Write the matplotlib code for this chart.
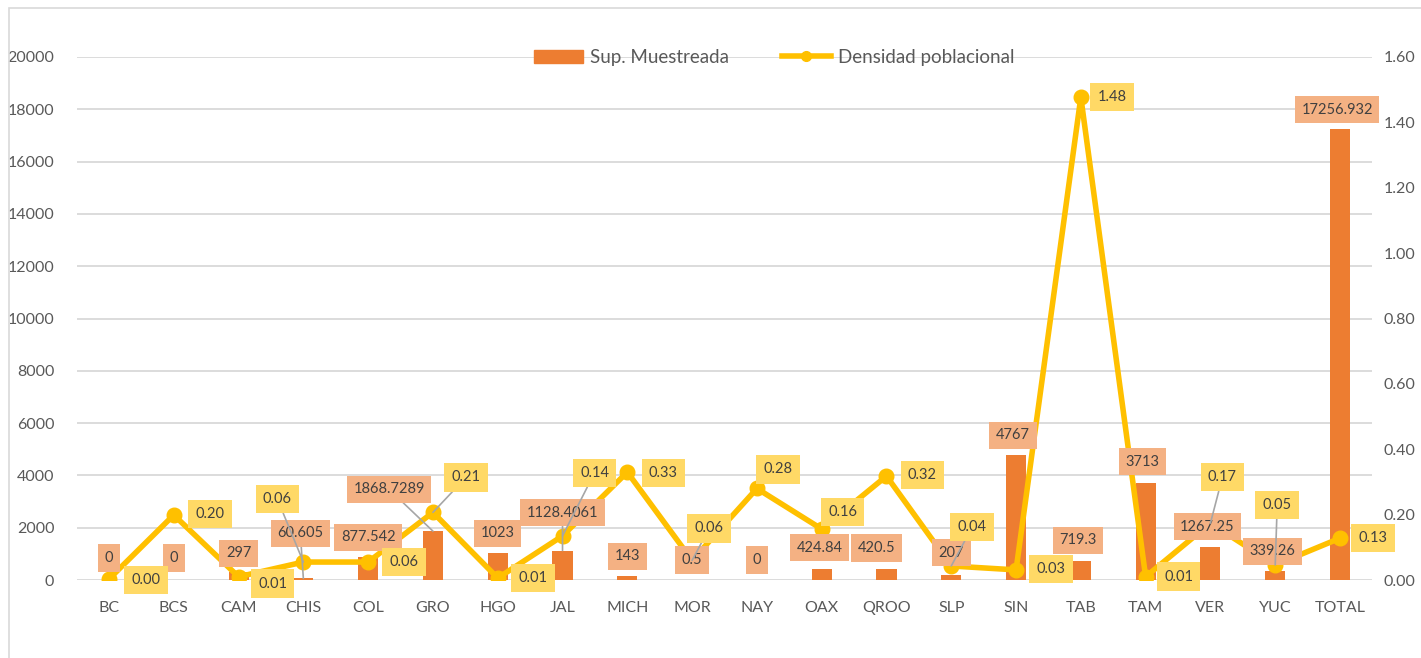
"""Sup. Muestreada vs Densidad poblacional por estado."""

import matplotlib
matplotlib.use('Agg')
import matplotlib.pyplot as plt
import matplotlib.patches as mpatches
from matplotlib.lines import Line2D
import numpy as np

# ── Data ──
estados = ['BC', 'BCS', 'CAM', 'CHIS', 'COL', 'GRO', 'HGO', 'JAL', 'MICH', 'MOR',
           'NAY', 'OAX', 'QROO', 'SLP', 'SIN', 'TAB', 'TAM', 'VER', 'YUC', 'TOTAL']
sup_muestreada = [0, 0, 297, 60.605, 877.542, 1868.7289, 1023, 1128.4061, 143, 0.5,
                  0, 424.84, 420.5, 207, 4767, 719.3, 3713, 1267.25, 339.26, 17256.932]
sup_labels = ['0', '0', '297', '60.605', '877.542', '1868.7289', '1023', '1128.4061', '143', '0.5',
              '0', '424.84', '420.5', '207', '4767', '719.3', '3713', '1267.25', '339.26', '17256.932']
densidad = [0.003, 0.199, 0.01, 0.055, 0.055, 0.207, 0.006, 0.135, 0.33, 0.06,
            0.28, 0.156, 0.318, 0.043, 0.031, 1.477, 0.01, 0.174, 0.046, 0.128]

# ── Label placement (pixel offsets from the mark) and leader lines ──
bar_offsets = [(0, 22), (0, 22), (0, 19), (-3, 45), (0, 20), (-44, 42), (0, 20), (0, 38), (0, 20), (0, 20),
               (0, 20), (-2, 21), (-10, 21), (0, 22), (-3, 20), (-3, 21), (-3, 21), (-3, 20), (-3, 20), (-3, 19)]
bar_leaders = {3, 5, 7}
line_offsets = [(37, -1), (36, 1), (34, -7), (-26, 63), (36, 0), (33, 35), (35, 0), (32, 63), (36, -1), (17, 32),
                (21, 19), (21, 17), (36, 1), (21, 39), (35, 1), (31, 0), (33, 0), (12, 46), (2, 60), (33, 0)]
line_leaders = {3, 5, 7, 9, 13, 17, 18}

BAR_COLOR = '#ED7D31'
LINE_COLOR = '#FFC000'
BAR_BOX = '#F4B183'
LINE_BOX = '#FFD966'
TEXT_COLOR = '#404040'
TICK_COLOR = '#595959'
GRID_COLOR = '#D9D9D9'

plt.rcParams['font.family'] = ['Lato', 'DejaVu Sans']

fig = plt.figure(figsize=(14.21, 6.58), dpi=100)
ax = fig.add_axes([0.0539, 0.1185, 0.9119, 0.7949])
ax2 = ax.twinx()

x = np.arange(len(estados))
ax.bar(x, sup_muestreada, width=0.31, color=BAR_COLOR, zorder=2)
ax.set_ylim(0, 20000)
ax.set_yticks(np.arange(0, 20001, 2000))
ax.set_xlim(-0.5, len(estados) - 0.5)
ax.set_xticks(x)
ax.set_xticklabels(estados)
ax.yaxis.grid(True, color=GRID_COLOR, lw=1.3)
ax.set_axisbelow(True)
ax.tick_params(axis='y', length=0, labelsize=11.5, colors=TICK_COLOR, pad=16)
ax.tick_params(axis='x', length=0, labelsize=11.5, colors=TICK_COLOR, pad=15)
for s in ax.spines.values():
    s.set_visible(False)

ax2.plot(x, densidad, color=LINE_COLOR, lw=4, marker='o', ms=10.5, zorder=3)
ax2.set_ylim(0, 1.6)
ax2.set_yticks(np.arange(0, 1.61, 0.2))
ax2.set_yticklabels([f'{v:.2f}' for v in np.arange(0, 1.61, 0.2)])
ax2.tick_params(axis='y', length=0, labelsize=11.5, colors=TICK_COLOR, pad=8)
for s in ax2.spines.values():
    s.set_visible(False)

# bar data labels
for i, (val, lab) in enumerate(zip(sup_muestreada, sup_labels)):
    arrow = dict(arrowstyle='-', color='#A6A6A6', lw=1.2, shrinkA=0, shrinkB=0) if i in bar_leaders else None
    ax2.annotate(lab, xy=(i, val * 1.6 / 20000), xytext=bar_offsets[i], textcoords='offset pixels',
                 ha='center', va='center', fontsize=10.5, color=TEXT_COLOR, zorder=5,
                 bbox=dict(boxstyle='square,pad=0.45', facecolor=BAR_BOX, edgecolor='none'),
                 arrowprops=arrow)

# line data labels
for i, val in enumerate(densidad):
    arrow = dict(arrowstyle='-', color='#A6A6A6', lw=1.2, shrinkA=0, shrinkB=0) if i in line_leaders else None
    ax2.annotate(f'{val:.2f}', xy=(i, val), xytext=line_offsets[i], textcoords='offset pixels',
                 ha='center', va='center', fontsize=10.5, color=TEXT_COLOR, zorder=6,
                 bbox=dict(boxstyle='square,pad=0.5', facecolor=LINE_BOX, edgecolor='none'),
                 arrowprops=arrow)

# legend
handles = [mpatches.Patch(color=BAR_COLOR, label='Sup. Muestreada'),
           Line2D([0], [0], color=LINE_COLOR, lw=4, marker='o', ms=7, label='Densidad poblacional')]
leg = fig.legend(handles=handles, loc='center', bbox_to_anchor=(0.545, 0.913), ncol=2,
                 frameon=False, fontsize=13.5, handlelength=2.6, columnspacing=2.8, handletextpad=0.4)
for t in leg.get_texts():
    t.set_color(TICK_COLOR)

# outer chart border
fig.patches.append(mpatches.Rectangle((0.006, -0.01), 1.0, 0.998, transform=fig.transFigure,
                                      fill=False, edgecolor=GRID_COLOR, lw=1.2))

plt.savefig('out.png', dpi=100)
plt.close()
